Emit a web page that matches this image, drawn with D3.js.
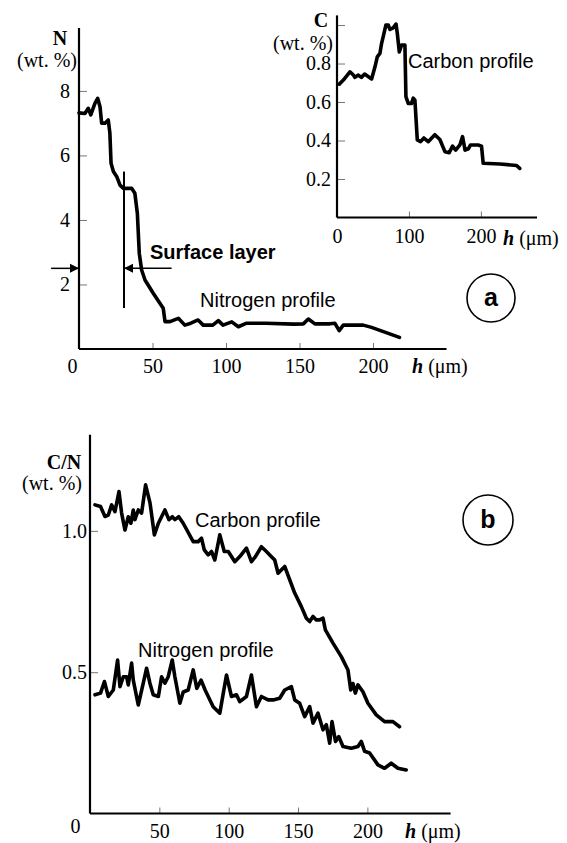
<!DOCTYPE html>
<html>
<head>
<meta charset="utf-8">
<script src="https://cdn.jsdelivr.net/npm/d3@7"></script>
<style>
  body { margin: 0; background: #fff; }
</style>
</head>
<body>
<svg id="chart" width="567" height="843"></svg>
<script>
const SERIF = '"Liberation Serif", "Times New Roman", serif';
const SANS = '"Liberation Sans", Arial, sans-serif';

// panel a: nitrogen profile (h in µm, N in wt.%)
const nitrogenA_h = [0, 4, 6.3, 8, 10.9, 12.7, 14.3, 15.4, 17.7, 19.9, 21, 21.8, 23.4, 25.7, 27.9, 30.1, 35.8, 38, 39.7, 41, 42.6, 44.9, 50.5, 57.3, 58.5, 61.9, 67.6, 72, 75, 81, 84.5, 91, 94.8, 98, 103.9, 108.4, 114, 127, 146, 152.6, 156, 160.5, 170.7, 174, 177, 179.8, 193.4, 199, 218];
const nitrogenA_v = [7.32, 7.3, 7.46, 7.26, 7.62, 7.77, 7.51, 7.0, 7.0, 7.1, 6.7, 5.76, 5.5, 5.34, 5.08, 4.98, 4.98, 4.83, 4.2, 2.97, 2.45, 2.14, 1.73, 1.26, 0.85, 0.85, 0.95, 0.74, 0.78, 0.9, 0.74, 0.74, 0.88, 0.74, 0.84, 0.69, 0.8, 0.8, 0.77, 0.78, 0.93, 0.78, 0.78, 0.8, 0.57, 0.74, 0.74, 0.67, 0.36];

// inset: carbon profile (h in µm, C in wt.%)
const carbonInset_h = [3.2, 8.8, 18, 22.7, 25, 29.2, 33.8, 38.4, 48.1, 52.8, 56, 59.7, 62, 65.3, 68, 71.3, 73.6, 78.2, 82, 83.8, 86.6, 89.8, 94.4, 95.8, 99, 103.7, 106, 108.3, 111.6, 116.2, 120.8, 126.8, 136, 143, 150, 156, 160.6, 165, 170.8, 174.5, 178, 182.6, 185.6, 193, 196, 200.9, 203.2, 226.4, 249.6, 254];
const carbonInset_v = [0.693, 0.714, 0.757, 0.74, 0.728, 0.74, 0.728, 0.745, 0.72, 0.783, 0.835, 0.853, 0.905, 0.957, 1.0, 1.0, 0.977, 0.985, 1.005, 0.957, 0.86, 0.896, 0.896, 0.628, 0.593, 0.593, 0.62, 0.61, 0.403, 0.394, 0.413, 0.394, 0.43, 0.405, 0.342, 0.337, 0.371, 0.35, 0.377, 0.42, 0.35, 0.357, 0.377, 0.377, 0.377, 0.37, 0.282, 0.278, 0.27, 0.255];

// panel b: carbon profile
const carbonB_h = [3.6, 7.6, 10.8, 13.2, 15.6, 18, 20.9, 22.8, 25.2, 27.6, 29.5, 31.2, 32.4, 34.8, 37.2, 40.1, 43.3, 46.4, 49.3, 54, 56.9, 59.3, 61.2, 64, 67.2, 74.4, 78, 80.4, 82.4, 85.2, 87.6, 90, 93.6, 96.8, 99.7, 104.4, 108, 112.8, 116.4, 119.3, 123.6, 127.2, 129.6, 133.2, 135.6, 140.4, 147.6, 152.4, 156, 158.4, 160.8, 163.2, 165.6, 168, 169.7, 175.2, 181.2, 186, 188, 189.6, 191.3, 193.2, 196.8, 200.4, 206.4, 212.4, 218.4, 223.2];
const carbonB_v = [1.092, 1.086, 1.051, 1.056, 1.092, 1.068, 1.139, 1.063, 1.003, 1.05, 1.027, 1.074, 1.04, 1.074, 1.063, 1.163, 1.098, 0.986, 1.027, 1.074, 1.04, 1.05, 1.04, 1.05, 1.027, 0.962, 0.962, 0.974, 0.933, 0.915, 0.927, 0.897, 0.986, 0.927, 0.927, 0.891, 0.909, 0.939, 0.891, 0.909, 0.944, 0.927, 0.915, 0.897, 0.85, 0.874, 0.78, 0.732, 0.691, 0.679, 0.697, 0.685, 0.685, 0.691, 0.65, 0.603, 0.555, 0.508, 0.437, 0.46, 0.426, 0.455, 0.431, 0.39, 0.349, 0.325, 0.325, 0.307];

// panel b: nitrogen profile
const nitrogenB_h = [3.6, 7.6, 10.4, 13.2, 16.8, 19.9, 21.6, 24, 26.4, 27.6, 30, 31.2, 34.8, 38.4, 40.8, 43.2, 45.6, 49.3, 51.6, 54, 56.4, 59.3, 61.2, 64.8, 67.2, 70.8, 74.4, 77, 80.1, 83, 88.8, 93.6, 98.4, 102, 105.6, 108, 112.8, 116.4, 120, 123.6, 128.4, 132, 136.8, 140.4, 145.2, 147.6, 151.2, 154.8, 158.4, 160.8, 164.4, 168, 170.4, 172.8, 174.5, 177, 179.4, 182.4, 188.4, 193.2, 195.6, 198, 201.6, 207.6, 212.4, 217.2, 222, 228];
const nitrogenB_v = [0.42, 0.426, 0.467, 0.414, 0.437, 0.543, 0.449, 0.484, 0.484, 0.455, 0.532, 0.472, 0.384, 0.461, 0.514, 0.461, 0.42, 0.414, 0.484, 0.461, 0.484, 0.543, 0.484, 0.39, 0.43, 0.437, 0.508, 0.443, 0.472, 0.437, 0.378, 0.355, 0.49, 0.414, 0.42, 0.396, 0.414, 0.49, 0.378, 0.414, 0.402, 0.402, 0.408, 0.437, 0.449, 0.402, 0.39, 0.343, 0.378, 0.32, 0.355, 0.296, 0.314, 0.249, 0.325, 0.255, 0.272, 0.237, 0.231, 0.237, 0.255, 0.22, 0.214, 0.172, 0.16, 0.178, 0.16, 0.154];

// tick values
const ticksA_x = [0, 50, 100, 150, 200];
const ticksA_y = [2, 4, 6, 8];
const ticksInset_x = [0, 100, 200];
const ticksInset_y = [0.2, 0.4, 0.6, 0.8, 1.0];
const ticksB_x = [0, 50, 100, 150, 200];
const ticksB_y = [0.5, 1.0];

// surface layer marker (µm, wt.%)
const surfaceEdge = 30.6;
const surfaceSpan = [5.5, 1.27];
const surfaceArrowN = 2.5;
const surfaceArrowLeft = -19;
const surfaceArrowRight = 63;

const svg = d3.select('#chart');
svg.append('rect').attr('width', 567).attr('height', 843).attr('fill', '#fff');

svg.append('defs').append('marker')
    .attr('id', 'arrow')
    .attr('viewBox', '0 0 10 10')
    .attr('refX', 10).attr('refY', 5)
    .attr('markerWidth', 9).attr('markerHeight', 15)
    .attr('markerUnits', 'userSpaceOnUse')
    .attr('orient', 'auto')
    .append('path').attr('d', 'M0,0L10,5L0,10Z').attr('fill', '#000');

function drawAxes(g, x, y, opt) {
    const xr = x.range(), yr = y.range();

    // ticks point inward, thin and grey
    const xa = g.append('g')
        .attr('transform', 'translate(0,' + yr[0] + ')')
        .call(d3.axisBottom(x).tickValues(opt.xTicks).tickSizeInner(-6).tickSizeOuter(0)
            .tickPadding(opt.xPad).tickFormat(d3.format('d')))
        .attr('font-family', SERIF)
        .attr('font-size', 20);
    xa.select('.domain').remove();
    xa.selectAll('line').attr('stroke', '#777').attr('stroke-width', 1);
    if (opt.zeroShift) {
        xa.selectAll('.tick').filter(d => d === 0).select('text')
            .attr('dx', opt.zeroShift[0]).attr('dy', opt.zeroShift[1]);
    }

    const ya = g.append('g')
        .attr('transform', 'translate(' + xr[0] + ',0)')
        .call(d3.axisLeft(y).tickValues(opt.yTicks).tickSizeInner(-8).tickSizeOuter(0)
            .tickPadding(opt.yPad).tickFormat(opt.yFormat))
        .attr('font-family', SERIF)
        .attr('font-size', 20);
    ya.select('.domain').remove();
    ya.selectAll('line').attr('stroke', '#777').attr('stroke-width', 1);

    // axis lines
    g.append('line')
        .attr('x1', xr[0]).attr('x2', xr[1])
        .attr('y1', yr[0]).attr('y2', yr[0])
        .attr('stroke', '#000').attr('stroke-width', 2.2);
    g.append('line')
        .attr('x1', xr[0]).attr('x2', xr[0])
        .attr('y1', yr[0]).attr('y2', yr[1])
        .attr('stroke', '#000').attr('stroke-width', 2.2);
}

function drawLine(g, x, y, hs, vs) {
    const pts = hs.map((h, i) => [h, vs[i]]);
    g.append('path')
        .datum(pts)
        .attr('fill', 'none')
        .attr('stroke', '#000')
        .attr('stroke-width', 3.6)
        .attr('stroke-linejoin', 'round')
        .attr('stroke-linecap', 'round')
        .attr('d', d3.line().x(d => x(d[0])).y(d => y(d[1])));
}

function hLabel(g, px, py) {
    const t = g.append('text').attr('font-family', SERIF).attr('font-size', 20)
        .attr('x', px).attr('y', py);
    t.append('tspan').attr('font-weight', 'bold').attr('font-style', 'italic').text('h');
    t.append('tspan').text(' (\u03bcm)');
}

function unitLabel(g, name, px, py, wx, wy) {
    g.append('text').attr('font-family', SERIF).attr('font-size', 20).attr('font-weight', 'bold')
        .attr('text-anchor', 'middle').attr('x', px).attr('y', py).text(name);
    g.append('text').attr('font-family', SERIF).attr('font-size', 20)
        .attr('text-anchor', 'end').attr('x', wx).attr('y', wy).text('(wt. %)');
}

function sansText(g, txt, px, py, bold) {
    g.append('text').attr('font-family', SANS).attr('font-size', 20)
        .attr('font-weight', bold ? 'bold' : 'normal')
        .attr('x', px).attr('y', py).text(txt);
}

function panelTag(g, letter, cx, cy, r) {
    g.append('circle').attr('cx', cx).attr('cy', cy).attr('r', r)
        .attr('fill', 'none').attr('stroke', '#000').attr('stroke-width', 1.6);
    g.append('text').attr('font-family', SANS).attr('font-size', 25).attr('font-weight', 'bold')
        .attr('text-anchor', 'middle').attr('x', cx).attr('y', cy + 8).text(letter);
}

// ---------- panel a ----------
const gA = svg.append('g');
const xA = d3.scaleLinear().domain([0, 250]).range([79, 446.5]);
const yA = d3.scaleLinear().domain([0, 9.95]).range([349, 28]);
drawAxes(gA, xA, yA, {xTicks: ticksA_x, yTicks: ticksA_y, xPad: 10, yPad: 9,
    yFormat: d3.format('d'), zeroShift: [-7, '0.71em']});
drawLine(gA, xA, yA, nitrogenA_h, nitrogenA_v);
unitLabel(gA, 'N', 60, 45, 77, 67);
hLabel(gA, 412, 373);
sansText(gA, 'Nitrogen profile', 200, 307, false);
sansText(gA, 'Surface layer', 150, 259, true);

gA.append('line')
    .attr('x1', xA(surfaceEdge)).attr('x2', xA(surfaceEdge))
    .attr('y1', yA(surfaceSpan[0])).attr('y2', yA(surfaceSpan[1]))
    .attr('stroke', '#000').attr('stroke-width', 2);
gA.append('line')
    .attr('x1', xA(surfaceArrowLeft)).attr('x2', xA(0))
    .attr('y1', yA(surfaceArrowN)).attr('y2', yA(surfaceArrowN))
    .attr('stroke', '#000').attr('stroke-width', 1.5).attr('marker-end', 'url(#arrow)');
gA.append('line')
    .attr('x1', xA(surfaceArrowRight)).attr('x2', xA(surfaceEdge))
    .attr('y1', yA(surfaceArrowN)).attr('y2', yA(surfaceArrowN))
    .attr('stroke', '#000').attr('stroke-width', 1.5).attr('marker-end', 'url(#arrow)');

panelTag(gA, 'a', 491, 298, 24);

// ---------- inset (carbon) ----------
const gI = svg.append('g');
const xI = d3.scaleLinear().domain([0, 278]).range([337, 537]);
const yI = d3.scaleLinear().domain([0, 1.05]).range([217.5, 15.4]);
drawAxes(gI, xI, yI, {xTicks: ticksInset_x, yTicks: ticksInset_y, xPad: 11, yPad: 6,
    yFormat: d => d >= 1 ? '' : d3.format('.1f')(d)});
drawLine(gI, xI, yI, carbonInset_h, carbonInset_v);
unitLabel(gI, 'C', 321, 27, 333, 50);
hLabel(gI, 503, 245);
sansText(gI, 'Carbon profile', 408, 68, false);

// ---------- panel b ----------
const gB = svg.append('g');
const xB = d3.scaleLinear().domain([0, 260]).range([90, 450.6]);
const yB = d3.scaleLinear().domain([0, 1.34]).range([813.5, 434.8]);
drawAxes(gB, xB, yB, {xTicks: ticksB_x, yTicks: ticksB_y, xPad: 10, yPad: 3,
    yFormat: d3.format('.1f'), zeroShift: [-15, 9.5]});
drawLine(gB, xB, yB, carbonB_h, carbonB_v);
drawLine(gB, xB, yB, nitrogenB_h, nitrogenB_v);
unitLabel(gB, 'C/N', 64, 469, 82, 490);
hLabel(gB, 405, 838);
sansText(gB, 'Carbon profile', 195, 527, false);
sansText(gB, 'Nitrogen profile', 138, 657, false);
panelTag(gB, 'b', 488, 520, 25);
</script>
</body>
</html>
